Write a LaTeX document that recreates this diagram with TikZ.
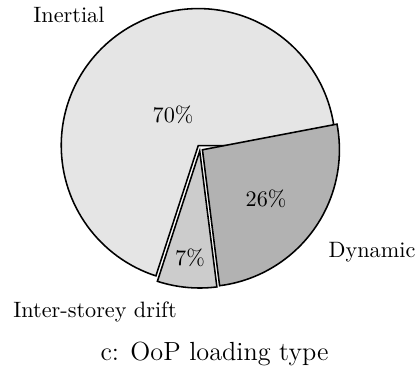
\documentclass[tikz,border=0pt]{standalone}
\usetikzlibrary{calc}
\begin{document}
\begin{tikzpicture}[x=0.45pt,y=0.45pt,
  slice/.style={draw=black,line width=0.7pt,line join=miter},
  lbl/.style={inner sep=0pt,font=\fontsize{10}{12}\selectfont},
  pct/.style={inner sep=0pt,font=\fontsize{10}{12}\selectfont}]
\useasboundingbox (0,0) rectangle (419,-371);
\coordinate (C) at (200,-148);
\def\R{137}
\def\ex{3}
% Inertial
\draw[slice,fill=gray!20] ($(C)+(126:\ex)$) -- ++(0:\R) arc[start angle=0,end angle=252,radius=\R] -- cycle;
% Inter-storey drift
\draw[slice,fill=gray!40] ($(C)+(264.6:\ex)$) -- ++(252:\R) arc[start angle=252,end angle=277.2,radius=\R] -- cycle;
% Dynamic
\draw[slice,fill=gray!60] ($(C)+(324:\ex)$) -- ++(277.2:\R) arc[start angle=277.2,end angle=370.8,radius=\R] -- cycle;
\node[pct] (p70) at (173,-115) {70\%};
\node[pct] (p26) at (266,-199) {26\%};
\node[pct] (p7) at (190,-258) {7\%};
\node[lbl] (inertial) at (69,-15) {Inertial};
\node[lbl] (dynamic) at (372,-252) {Dynamic};
\node[lbl] (drift) at (95,-312) {Inter-storey drift};
\node[inner sep=0pt,font=\fontsize{11.8}{14}\selectfont] (cap) at (214.5,-354) {c: OoP loading type};
\end{tikzpicture}
\end{document}
